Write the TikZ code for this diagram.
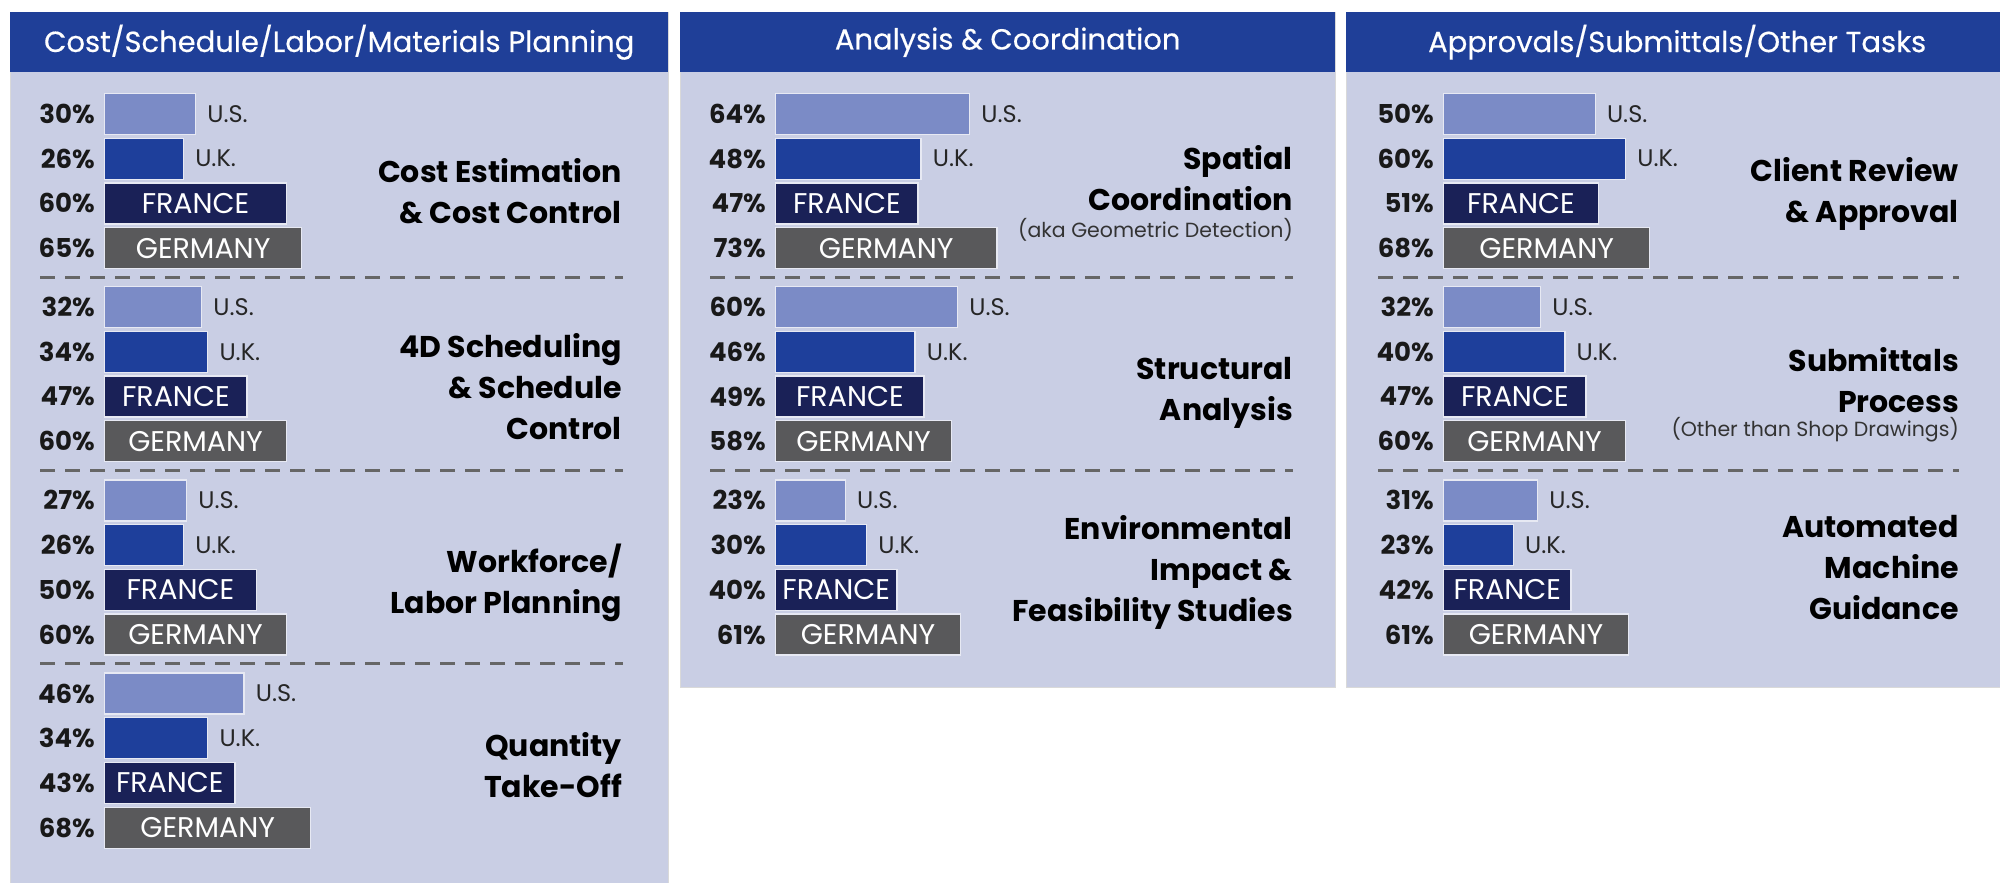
\documentclass[tikz,border=0pt]{standalone}
\usepackage{fontspec}
\setmainfont{Poppins}
\newfontfamily\headfont{Poppins}[FakeBold=0.4]
\usetikzlibrary{positioning}

\definecolor{panelbg}{RGB}{201,206,228}
\definecolor{headblue}{RGB}{31,63,152}
\definecolor{usblue}{RGB}{123,139,198}
\definecolor{ukblue}{RGB}{30,63,155}
\definecolor{frnavy}{RGB}{26,33,87}
\definecolor{degray}{RGB}{89,89,91}

% four bars of one task: name, bar x, first row y, U.S., U.K., France, Germany
\newcommand{\bargroup}[7]{%
  \node[bar, fill=usblue, minimum width={#4*3.03pt}] (#1us) at (#2,#3) {};
  \node[bar, fill=ukblue, minimum width={#5*3.03pt}] (#1uk) at (#2,#3+44.7) {};
  \node[bar, fill=frnavy, minimum width={#6*3.03pt}] (#1fr) at (#2,#3+89.4) {FRANCE};
  \node[bar, fill=degray, minimum width={#7*3.03pt}] (#1de) at (#2,#3+134.1) {GERMANY};
  \node[country, right=11pt of #1us] (#1usname) {U.S.};
  \node[country, right=11pt of #1uk] (#1ukname) {U.K.};
  \node[pct, left=9pt of #1us] (#1uspct) {#4\%};
  \node[pct, left=9pt of #1uk] (#1ukpct) {#5\%};
  \node[pct, left=9pt of #1fr] (#1frpct) {#6\%};
  \node[pct, left=9pt of #1de] (#1depct) {#7\%};
}

\begin{document}
\begin{tikzpicture}[
    x=1pt, y=-1pt,
    panel/.style={
        rectangle, anchor=north west,
        fill=panelbg, draw=black!15, line width=0.8pt
    },
    headbar/.style={
        rectangle, anchor=north west,
        fill=headblue, text=white,
        minimum height=60pt,
        font=\headfont\fontsize{29}{32}\selectfont
    },
    bar/.style={
        rectangle, anchor=west,
        draw=white!55!panelbg, line width=1.3pt,
        inner sep=0pt, minimum height=41pt,
        text=white, font=\fontsize{28.5}{30}\selectfont
    },
    country/.style={inner sep=0pt, text=black!85, font=\fontsize{24}{26}\selectfont},
    pct/.style={inner sep=0pt, text=black!90, font=\bfseries\fontsize{26}{28}\selectfont},
    task/.style={
        anchor=north east, align=right, inner sep=0pt,
        font=\bfseries\fontsize{30}{41}\selectfont
    },
    note/.style={anchor=east, inner sep=0pt, text=black!80, font=\fontsize{20.5}{22}\selectfont},
    divider/.style={draw=black!60, line width=3pt, dash pattern=on 15pt off 10pt}
]

\useasboundingbox (0,0) rectangle (2000,883);
\fill[white] (0,0) rectangle (2000,883);

% panels and headers
\node[panel, minimum width=658pt, minimum height=871pt] (p1) at (10,12) {};
\node[panel, minimum width=655pt, minimum height=675pt] (p2) at (680,12) {};
\node[panel, minimum width=662pt, minimum height=675pt] (p3) at (1346,12) {};
\node[headbar, minimum width=658pt] (h1) at (10,12) {Cost/Schedule/Labor/Materials Planning};
\node[headbar, minimum width=655pt] (h2) at (680,12) {Analysis \& Coordination};
\node[headbar, minimum width=662pt] (h3) at (1346,12) {Approvals/Submittals/Other Tasks};

% Cost/Schedule/Labor/Materials Planning
\bargroup{cost}{104}{114}{30}{26}{60}{65}
\bargroup{sched}{104}{307.2}{32}{34}{47}{60}
\bargroup{labor}{104}{500.4}{27}{26}{50}{60}
\bargroup{qto}{104}{693.6}{46}{34}{43}{68}
\node[task] (costtask) at (622,158) {Cost Estimation\\\& Cost Control};
\node[task] (schedtask) at (622,333) {4D Scheduling\\\& Schedule\\Control};
\node[task] (labortask) at (622,544) {Workforce/\\Labor Planning};
\node[task] (qtotask) at (622,732) {Quantity\\Take-Off};
\draw[divider] (40,277) -- (623,277);
\draw[divider] (40,470.2) -- (623,470.2);
\draw[divider] (40,663.4) -- (623,663.4);

% Analysis & Coordination
\bargroup{spatial}{775}{114}{64}{48}{47}{73}
\bargroup{struct}{775}{307.2}{60}{46}{49}{58}
\bargroup{env}{775}{500.4}{23}{30}{40}{61}
\node[task] (spatialtask) at (1293,145) {Spatial\\Coordination};
\node[note] (spatialnote) at (1293,230) {(aka Geometric Detection)};
\node[task] (structtask) at (1293,357) {Structural\\Analysis};
\node[task] (envtask) at (1293,515) {Environmental\\Impact \&\\Feasibility Studies};
\draw[divider] (710,277) -- (1293,277);
\draw[divider] (710,470.2) -- (1293,470.2);

% Approvals/Submittals/Other Tasks
\bargroup{client}{1443}{114}{50}{60}{51}{68}
\bargroup{submit}{1443}{307.2}{32}{40}{47}{60}
\bargroup{amg}{1443}{500.4}{31}{23}{42}{61}
\node[task] (clienttask) at (1959,157) {Client Review\\\& Approval};
\node[task] (submittask) at (1959,347) {Submittals\\Process};
\node[note] (submitnote) at (1959,430) {(Other than Shop Drawings)};
\node[task] (amgtask) at (1959,515) {Automated\\Machine\\Guidance};
\draw[divider] (1378,277) -- (1959,277);
\draw[divider] (1378,470.2) -- (1959,470.2);

\end{tikzpicture}
\end{document}
